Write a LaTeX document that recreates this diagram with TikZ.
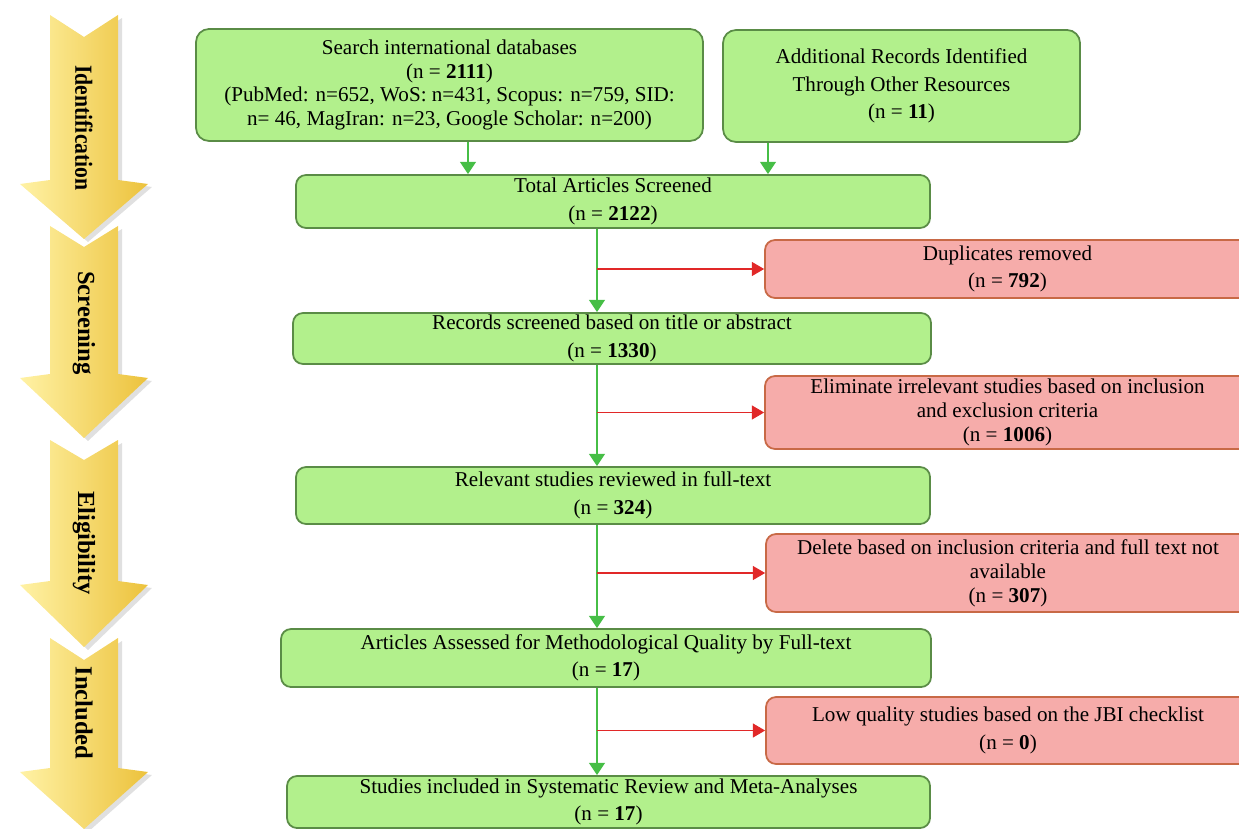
\documentclass[tikz,border=0pt]{standalone}
\usepackage{fontspec}
\setmainfont{Liberation Serif}
\usetikzlibrary{arrows.meta, positioning}
\usepackage{xcolor}

\definecolor{boxgreen}{RGB}{178,240,140}
\definecolor{linegreen}{RGB}{90,140,70}
\definecolor{arrowgreen}{RGB}{70,190,70}
\definecolor{boxred}{RGB}{246,172,170}
\definecolor{linered}{RGB}{200,105,70}
\definecolor{arrowred}{RGB}{225,40,40}
\definecolor{stagelight}{RGB}{255,242,165}
\definecolor{stagedark}{RGB}{236,194,60}

\begin{document}
\begin{tikzpicture}[
font=\fontsize{12}{13.6}\selectfont,
box/.style={draw=linegreen,
fill=boxgreen,
line width=1pt,
rectangle,
rounded corners=0.2cm,
align=center,
inner sep=1pt},
rbox/.style={box, draw=linered, fill=boxred},
garrow/.style={-{Triangle[width=9pt,length=7pt]}, arrowgreen, line width=1pt},
rarrow/.style={-{Triangle[width=8pt,length=7pt]}, arrowred, line width=0.6pt},
stage/.style={rotate=-90, font=\fontsize{14}{16}\selectfont\bfseries}
]
\useasboundingbox (0,0) rectangle (24.78,-16.58);

% stage arrows on the left
\foreach \top/\notch/\wing/\tip/\mid/\name/\sx in {
0.30/0.74/3.68/4.78/2.56/Identification/0.88,
4.52/4.94/7.56/8.76/6.46/Screening/1,
8.80/9.20/11.70/12.94/10.86/Eligibility/1,
12.76/13.20/15.44/16.58/14.26/Included/1}
{
\fill[black!12] (1.08,-\top-0.06) -- (1.76,-\notch-0.06) -- (2.44,-\top-0.06) -- (2.44,{-\wing+0.02}) -- (3.04,{-\wing-0.06}) -- (1.76,{-\tip-0.06}) -- (0.48,{-\wing-0.06}) -- (1.08,{-\wing+0.02}) -- cycle;
\shade[left color=stagelight, right color=stagedark] (1.0,-\top) -- (1.68,-\notch) -- (2.36,-\top) -- (2.36,{-\wing+0.08}) -- (2.96,-\wing) -- (1.68,-\tip) -- (0.40,-\wing) -- (1.0,{-\wing+0.08}) -- cycle;
\node[stage, xscale=\sx] (lbl\name) at (1.68,-\mid) {\name};
}

\node[box, rounded corners=0.26cm, minimum width=10.14cm, minimum height=2.24cm] (search) at (8.99,-1.70) {Search international databases\\(n = \textbf{2111})\\(PubMed: n=652, WoS: n=431, Scopus: n=759, SID:\\n= 46, MagIran: n=23, Google Scholar: n=200)};
\node[box, rounded corners=0.26cm, minimum width=7.14cm, minimum height=2.24cm] (other) at (18.03,-1.72) {Additional Records Identified\\[2pt]Through Other Resources\\[2pt](n = \textbf{11})};
\node[box, minimum width=12.68cm, minimum height=1.06cm] (total) at (12.26,-4.03) {Total Articles Screened\\[2pt](n = \textbf{2122})};
\node[rbox, minimum width=9.7cm, minimum height=1.16cm] (dup) at (20.15,-5.38) {Duplicates removed\\[2pt](n = \textbf{792})};
\node[box, minimum width=12.76cm, minimum height=1.02cm] (records) at (12.24,-6.77) {Records screened based on title or abstract\\[2pt](n = \textbf{1330})};
\node[rbox, minimum width=9.7cm, minimum height=1.46cm] (elim) at (20.15,-8.25) {Eliminate irrelevant studies based on inclusion\\and exclusion criteria\\(n = \textbf{1006})};
\node[box, minimum width=12.68cm, minimum height=1.14cm] (relevant) at (12.26,-9.91) {Relevant studies reviewed in full-text\\[2pt](n = \textbf{324})};
\node[rbox, minimum width=9.68cm, minimum height=1.56cm] (delete) at (20.16,-11.46) {Delete based on inclusion criteria and full text not\\available\\(n = \textbf{307})};
\node[box, minimum width=13.0cm, minimum height=1.16cm] (assessed) at (12.12,-13.16) {Articles Assessed for Methodological Quality by Full-text\\[2pt](n = \textbf{17})};
\node[rbox, minimum width=9.68cm, minimum height=1.34cm] (lowq) at (20.16,-14.61) {Low quality studies based on the JBI checklist\\[2pt](n = \textbf{0})};
\node[box, minimum width=12.86cm, minimum height=1.04cm] (included) at (12.17,-16.04) {Studies included in Systematic Review and Meta-Analyses\\[2pt](n = \textbf{17})};

\coordinate (trunk) at (11.94,0);

\draw[garrow] ([xshift=0.37cm]search.south) -- ([xshift=0.37cm]search.south |- total.north);
\draw[garrow] ([xshift=-2.67cm]other.south) -- ([xshift=-2.67cm]other.south |- total.north);
\draw[garrow] (total.south -| trunk) -- (records.north -| trunk);
\draw[garrow] (records.south -| trunk) -- (relevant.north -| trunk);
\draw[garrow] (relevant.south -| trunk) -- (assessed.north -| trunk);
\draw[garrow] (assessed.south -| trunk) -- (included.north -| trunk);

\draw[rarrow] (dup.west -| trunk) -- (dup.west);
\draw[rarrow] (elim.west -| trunk) -- (elim.west);
\draw[rarrow] (delete.west -| trunk) -- (delete.west);
\draw[rarrow] (lowq.west -| trunk) -- (lowq.west);

\end{tikzpicture}
\end{document}
